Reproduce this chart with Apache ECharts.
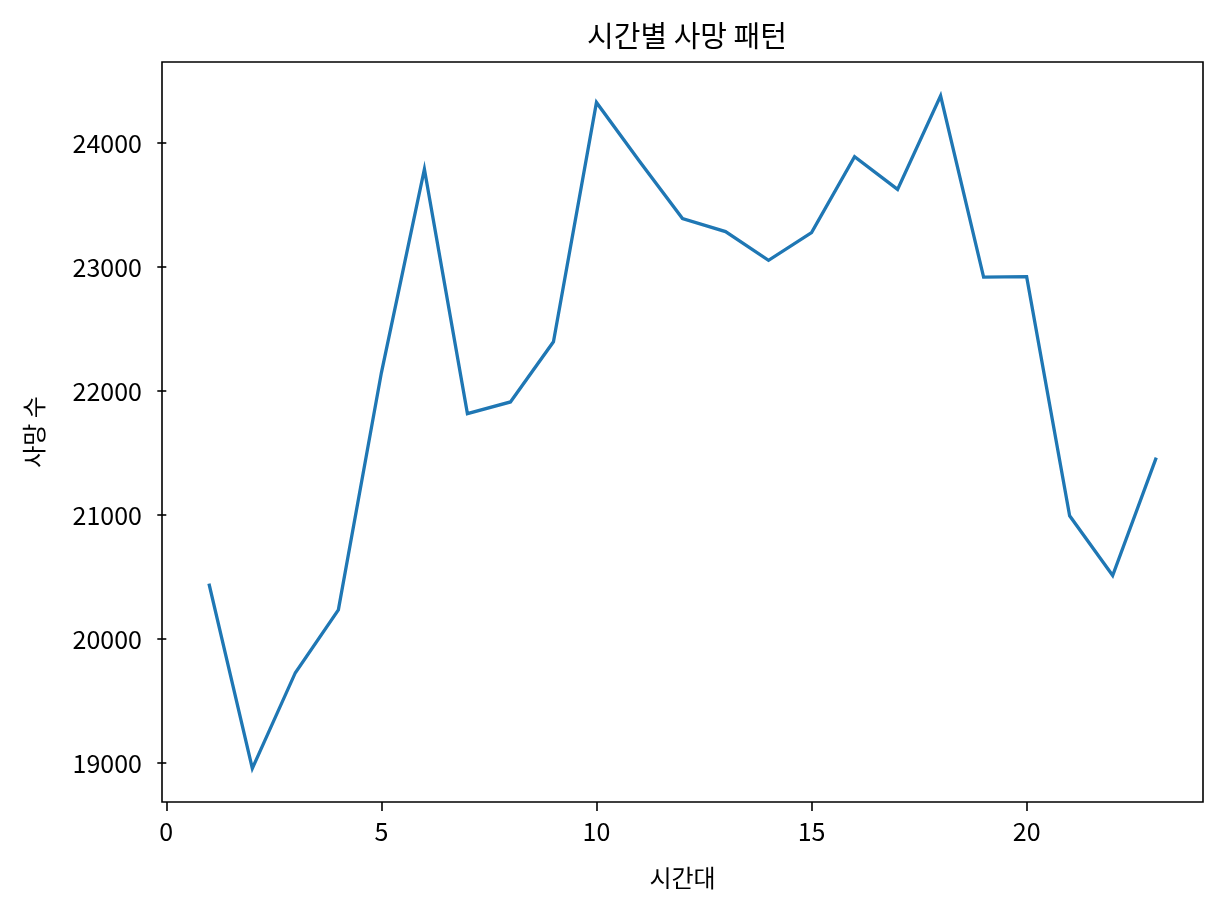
<!DOCTYPE html>
<html>
<head>
<meta charset="utf-8">
<title>시간별 사망 패턴</title>
<script src="https://cdn.jsdelivr.net/npm/echarts@6/dist/echarts.min.js"></script>
<style>
    html, body { margin: 0; padding: 0; background: #ffffff; }
    #chart { width: 1223px; height: 915px; }
</style>
</head>
<body>
<div id="chart"></div>
<script>
// ============================================
// 데이터
// ============================================
const hours = [1, 2, 3, 4, 5, 6, 7, 8, 9, 10, 11, 12, 13, 14, 15, 16, 17, 18, 19, 20, 21, 22, 23];
const deaths = [20435, 18957, 19729, 20236, 22148, 23790, 21819, 21913, 22398, 24329, 23855, 23392,
    23287, 23055, 23279, 23892, 23628, 24382, 22920, 22923, 20995, 20513, 21451];
const xTicks = [0, 5, 10, 15, 20];
const yTicks = [19000, 20000, 21000, 22000, 23000, 24000];

const FONT = '"Noto Sans CJK KR", "Noto Sans", sans-serif';

// ============================================
// 차트
// ============================================
const chart = echarts.init(document.getElementById('chart'), null, { renderer: 'canvas' });

const axisCommon = {
    type: 'value',
    splitLine: { show: false },
    axisLine: { show: false },
    axisTick: {
        show: true,
        inside: false,
        length: 9,
        lineStyle: { color: '#000000', width: 1.6 }
    },
    nameLocation: 'middle',
    nameTextStyle: { color: '#000000', fontFamily: FONT, fontSize: 24 }
};

chart.setOption({
    animation: false,
    title: {
        text: '시간별 사망 패턴',
        left: 682,
        top: 16,
        textAlign: 'center',
        textStyle: { color: '#000000', fontFamily: FONT, fontSize: 29, fontWeight: 'normal' }
    },
    grid: {
        left: 162,
        top: 62,
        right: 20,
        bottom: 113,
        show: true,
        borderColor: '#000000',
        borderWidth: 1.6,
        backgroundColor: '#ffffff'
    },
    xAxis: Object.assign({}, axisCommon, {
        min: -0.1,
        max: 24.1,
        name: '시간대',
        nameGap: 64,
        axisTick: Object.assign({}, axisCommon.axisTick, { customValues: xTicks }),
        axisLabel: {
            customValues: xTicks,
            margin: 17,
            color: '#000000',
            fontFamily: FONT,
            fontSize: 25
        }
    }),
    yAxis: Object.assign({}, axisCommon, {
        min: 18686,
        max: 24655,
        name: '사망 수',
        nameGap: 116,
        nameRotate: 90,
        axisTick: Object.assign({}, axisCommon.axisTick, { customValues: yTicks }),
        axisLabel: {
            customValues: yTicks,
            margin: 20,
            color: '#000000',
            fontFamily: FONT,
            fontSize: 25,
            formatter: v => String(v)
        }
    }),
    series: [{
        type: 'line',
        data: hours.map((h, i) => [h, deaths[i]]),
        showSymbol: false,
        symbol: 'none',
        lineStyle: { color: '#1f77b4', width: 3.3, cap: 'square', join: 'miter' },
        itemStyle: { color: '#1f77b4' }
    }]
});

window.addEventListener('resize', () => chart.resize());
</script>
</body>
</html>
